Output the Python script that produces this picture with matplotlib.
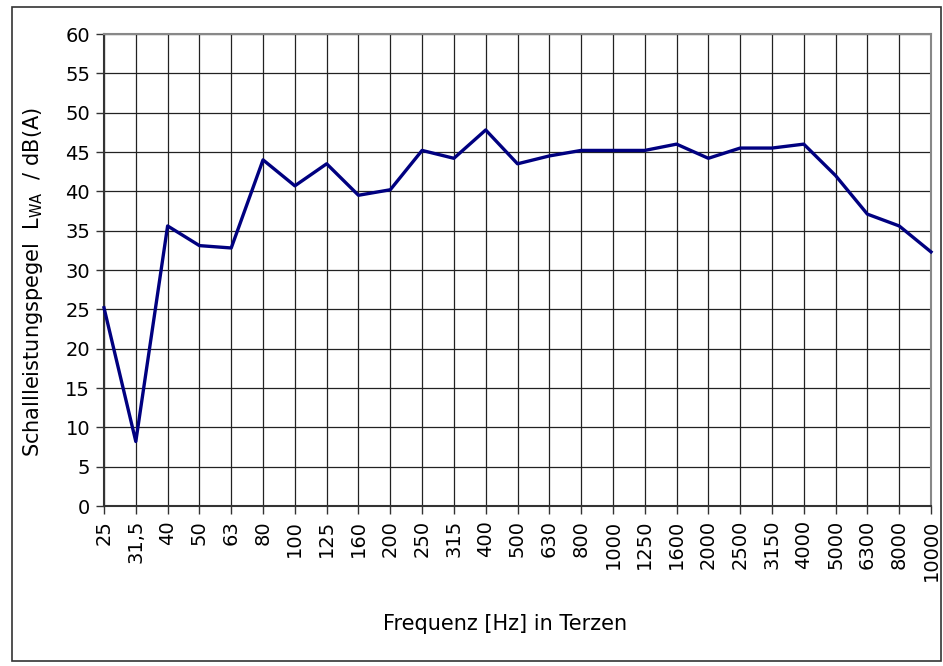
import numpy as np
import matplotlib
matplotlib.use("Agg")
import matplotlib.pyplot as plt
from matplotlib.patches import Rectangle

plt.rcParams['font.family'] = ['DejaVu Sans']

# Terzband-Mittenfrequenzen und Schallleistungspegel
frequenzen = ["25", "31,5", "40", "50", "63", "80", "100", "125", "160", "200",
              "250", "315", "400", "500", "630", "800", "1000", "1250", "1600",
              "2000", "2500", "3150", "4000", "5000", "6300", "8000", "10000"]
pegel = [25.2, 8.2, 35.6, 33.1, 32.8, 44.0, 40.7, 43.5, 39.5, 40.2,
         45.2, 44.2, 47.8, 43.5, 44.5, 45.2, 45.2, 45.2, 46.0,
         44.2, 45.5, 45.5, 46.0, 42.0, 37.1, 35.6, 32.3]
y_ticks = list(range(0, 61, 5))

W, H = 943, 666
fig = plt.figure(figsize=(W / 100, H / 100), dpi=100)
ax = fig.add_axes([104 / W, 1 - 506 / H, (931 - 104) / W, (506 - 34) / H])

x = np.arange(len(frequenzen))
ax.plot(x, pegel, color='#000080', lw=2.4, zorder=3, clip_on=False)

ax.set_xlim(0, len(frequenzen) - 1)
ax.set_ylim(0, 60)
ax.set_xticks(x)
ax.set_xticklabels(frequenzen, rotation=90, fontsize=14)
ax.set_yticks(y_ticks)
ax.set_yticklabels([str(v) for v in y_ticks], fontsize=14)
ax.tick_params(axis='both', direction='out', length=6, width=1, color='#333333', pad=4)

ax.grid(True, color='#222222', lw=0.9)
ax.set_axisbelow(True)
for s in ['top', 'right']:
    ax.spines[s].set_color('#888888')
    ax.spines[s].set_linewidth(1.5)
for s in ['left', 'bottom']:
    ax.spines[s].set_color('#333333')
    ax.spines[s].set_linewidth(1.5)

ax.set_xlabel("Frequenz [Hz] in Terzen", fontsize=15)
ax.xaxis.set_label_coords(0.485, -0.228)
ax.set_ylabel(r"Schallleistungspegel  L$_{\mathregular{WA}}$  / dB(A)", fontsize=15)
ax.yaxis.set_label_coords(-0.071, 0.475)

# outer chart frame
fig.patches.append(Rectangle((12 / W, 1 - 661 / H), (941 - 12) / W, (661 - 7) / H,
                             transform=fig.transFigure, fill=False,
                             edgecolor='#333333', lw=1.2))

fig.savefig("out.png", dpi=100)
